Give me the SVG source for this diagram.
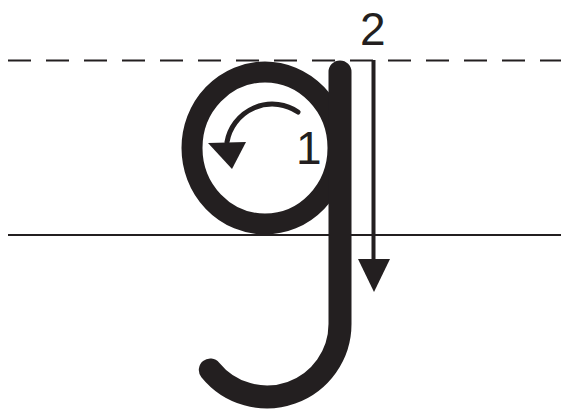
<svg xmlns="http://www.w3.org/2000/svg" width="561" height="410" viewBox="0 0 561 410">
  <style>
    .ink { fill: none; stroke: #231f20; }
    .fillink { fill: #231f20; stroke: none; }
    .lbl { font-family: "Liberation Sans", Arial, sans-serif; font-size: 46px; fill: #231f20; }
  </style>
  <rect width="561" height="410" fill="#ffffff"/>
  <g id="guides">
    <line class="ink" x1="8" y1="60.5" x2="561" y2="60.5" stroke-width="2" stroke-dasharray="23 15"/>
    <line class="ink" x1="8" y1="235" x2="561" y2="235" stroke-width="2"/>
  </g>
  <g id="letter-g">
    <ellipse class="ink" cx="265" cy="148" rx="73" ry="76" stroke-width="21"/>
    <path class="ink" d="M340,72 L340,324 A73,73 0 0 1 210.3,369.9" stroke-width="23" stroke-linecap="round"/>
  </g>
  <g id="connectors">
    <g id="arrow-1">
      <path class="ink" d="M298,112 A46,46 0 0 0 227,142" stroke-width="5" stroke-linecap="round"/>
      <polygon class="fillink" points="208,143 246,142 232,169"/>
    </g>
    <g id="arrow-2">
      <line class="ink" x1="373.5" y1="60" x2="373.5" y2="262" stroke-width="4"/>
      <polygon class="fillink" points="358,259 390,259 374,292"/>
    </g>
  </g>
  <g id="label-1"><text class="lbl" x="296" y="164">1</text></g>
  <g id="label-2"><text class="lbl" x="360" y="45">2</text></g>
</svg>
